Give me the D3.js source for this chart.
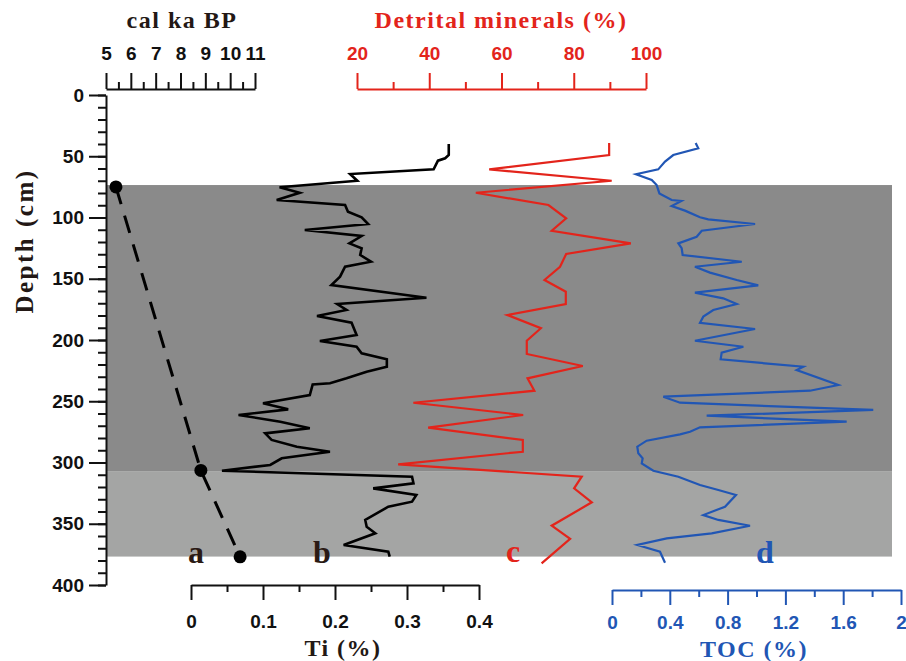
<!DOCTYPE html>
<html>
<head>
<meta charset="utf-8">
<script src="https://cdn.jsdelivr.net/npm/d3@7"></script>
<style>
  body { margin: 0; background: #fff; }
  svg { display: block; }
</style>
</head>
<body>
<div id="chart"></div>
<script>
// depth (cm) -> Ti (%)
const tiDepth = [40, 49, 51.7, 53.6, 60.7, 64.5, 70, 75.3, 79.8, 85.7,
  89.8, 95.3, 99.8, 105.3, 110.2, 115.1, 121.1, 125.1, 130.6, 136.1,
  140.2, 148.3, 155.1, 165.5, 170.6, 175.5, 180.4, 185.9, 195.9, 200.8,
  205.5, 210.9, 215.8, 221.8, 225.9, 231.3, 235.3, 236.3, 244.9, 251.7,
  256.6, 261.2, 266.7, 272.1, 276.2, 281.6, 287.1, 291.2, 296.6, 302,
  306.7, 311.6, 317, 321.1, 326.5, 332, 336.1, 346.9, 352.4, 357.8,
  367.3, 372.8, 376.9];
const tiValue = [0.358, 0.358, 0.353, 0.343, 0.337, 0.221, 0.231, 0.123, 0.151, 0.119,
  0.214, 0.218, 0.237, 0.246, 0.158, 0.237, 0.220, 0.237, 0.235, 0.250,
  0.214, 0.207, 0.195, 0.327, 0.203, 0.216, 0.175, 0.223, 0.230, 0.179,
  0.230, 0.237, 0.272, 0.272, 0.244, 0.216, 0.193, 0.169, 0.165, 0.100,
  0.135, 0.066, 0.124, 0.165, 0.103, 0.112, 0.147, 0.193, 0.126, 0.110,
  0.043, 0.307, 0.309, 0.253, 0.313, 0.307, 0.274, 0.242, 0.244, 0.256,
  0.212, 0.274, 0.276];

// depth -> detrital minerals (%)
const detDepth = [39.2, 49, 60.7, 70, 79.8, 89.8, 100.7, 110.8, 121.1, 129.8,
  140.2, 151, 160.6, 170.6, 179.6, 190.4, 200.6, 211.4, 221.2, 231.3,
  241.4, 251.2, 261.2, 271.6, 281.6, 291.2, 301.5, 311.6, 321.1, 332.5,
  351.6, 362.4, 382.3];
const detValue = [89.8, 89.8, 56.6, 90.5, 52.9, 73.0, 77.9, 73.9, 95.8, 77.9,
  76.2, 71.9, 77.8, 77.8, 61.6, 70.9, 67.0, 67.0, 82.5, 67.2,
  69.1, 35.6, 66.0, 39.7, 65.9, 65.9, 31.4, 82.2, 80.1, 85.0,
  73.9, 79.0, 71.1];

// depth -> TOC (%)
const tocDepth = [39.2, 43.5, 49, 54.4, 60.7, 64.7, 69.4, 73.5, 80.3, 85.7,
  86.5, 90.6, 94.4, 99.8, 101.5, 105.3, 110.8, 115.7, 121.1, 125.1,
  130.6, 136.1, 140.2, 145, 151, 155.4, 161.4, 166, 170.6, 175.5,
  180.9, 185.9, 191, 200.6, 205.5, 210.4, 215.8, 221.8, 224.5, 236.7,
  241.4, 246.3, 251.2, 257.1, 261.8, 266.7, 271.3, 274.9, 277, 282.2,
  287.1, 292.5, 296.6, 300.7, 306.7, 311.6, 318.4, 322.4, 326.5, 336.1,
  342.9, 346.9, 351.6, 357.8, 361.9, 367.3, 372.8, 381.8];
const tocValue = [0.579, 0.597, 0.424, 0.367, 0.320, 0.166, 0.275, 0.309, 0.328, 0.413,
  0.48, 0.413, 0.505, 0.609, 0.666, 0.990, 0.621, 0.586, 0.459, 0.482,
  0.489, 0.898, 0.574, 0.678, 0.863, 1.012, 0.574, 0.770, 0.863, 0.701,
  0.632, 0.609, 0.990, 0.574, 0.909, 0.759, 0.752, 1.324, 1.278, 1.566,
  1.370, 0.355, 0.471, 1.808, 0.655, 1.624, 0.609, 0.540, 0.471, 0.240,
  0.175, 0.182, 0.212, 0.206, 0.286, 0.459, 0.609, 0.736, 0.858, 0.782,
  0.632, 0.736, 0.955, 0.690, 0.379, 0.175, 0.332, 0.367];

// age model
const ageDepth = [75, 306.5, 377];
const ageValue = [5.4, 8.82, 10.4];

// shaded zones (depth)
const zoneTop = [73.5, 307.5];
const zoneBottom = [307.5, 376.8];
const zoneFill = ["#8a8a8a", "#a4a5a4"];

const depthMajor = d3.range(0, 401, 50);
const depthMinor = d3.range(0, 401, 10);
const ageMajor = [5, 6, 7, 8, 9, 10, 11];
const ageMinor = [5.5, 6.5, 7.5, 8.5, 9.5, 10.5];
const detMajor = [20, 40, 60, 80, 100];
const detMinor = [30, 50, 70, 90];
const tiMajor = [0, 0.1, 0.2, 0.3, 0.4];
const tiMinor = [0.05, 0.15, 0.25, 0.35];
const tocMajor = [0, 0.4, 0.8, 1.2, 1.6, 2];
const tocMinor = [0.2, 0.6, 1.0, 1.4, 1.8];

const width = 906, height = 661;
const RED = "#e3241b", BLUE = "#2156b4", BLACK = "#111";
const serif = "'Liberation Serif', 'Times New Roman', serif";
const sans = "'Liberation Sans', Arial, sans-serif";

const svg = d3.select("#chart").append("svg")
  .attr("width", width).attr("height", height)
  .style("background", "#fff");

const y = d3.scaleLinear().domain([0, 400]).range([95, 585]);
const xAge = d3.scaleLinear().domain([5, 11]).range([106, 255]);
const xDet = d3.scaleLinear().domain([20, 100]).range([357, 646]);
const xTi = d3.scaleLinear().domain([0, 0.4]).range([191, 479]);
const xToc = d3.scaleLinear().domain([0, 2]).range([612, 901]);

// background zones
svg.selectAll(".zone")
  .data(zoneTop)
  .join("rect")
  .attr("class", "zone")
  .attr("x", 106)
  .attr("width", 892 - 106)
  .attr("y", (d) => y(d))
  .attr("height", (d, i) => y(zoneBottom[i]) - y(d))
  .attr("fill", (d, i) => zoneFill[i]);

function drawAxis(axisFn, scale, pos, majors, minors, majorLen, minorLen, pad, color, fmt) {
  const g = svg.append("g");
  if (axisFn === d3.axisLeft) g.attr("transform", `translate(${pos},0)`);
  else g.attr("transform", `translate(0,${pos})`);

  g.append("g")
    .call(axisFn(scale).tickValues(minors).tickSize(minorLen).tickSizeOuter(0).tickFormat(""))
    .call((s) => s.select(".domain").remove());

  g.append("g")
    .call(axisFn(scale).tickValues(majors).tickSize(majorLen).tickSizeOuter(0)
      .tickPadding(pad).tickFormat(fmt || d3.format("~g")));

  g.selectAll("path, line").attr("stroke", color).attr("stroke-width", 2);
  g.selectAll("text")
    .attr("fill", color)
    .style("font-family", sans)
    .style("font-weight", "bold")
    .style("font-size", "19px");
  return g;
}

drawAxis(d3.axisLeft, y, 106, depthMajor, depthMinor, 17, 8, 5, BLACK);
drawAxis(d3.axisTop, xAge, 89, ageMajor, ageMinor, 16, 7, 13, BLACK);
drawAxis(d3.axisTop, xDet, 89, detMajor, detMinor, 16, 7, 13, RED);
drawAxis(d3.axisBottom, xTi, 585, tiMajor, tiMinor, 15, 7, 15, BLACK);
drawAxis(d3.axisBottom, xToc, 590, tocMajor, tocMinor, 15, 7, 11, BLUE);

// curves
const line = (xs, depths) => d3.line()
  .x((d) => xs(d))
  .y((d, i) => y(depths[i]));

svg.append("path")
  .attr("d", line(xTi, tiDepth)(tiValue))
  .attr("fill", "none").attr("stroke", "#000")
  .attr("stroke-width", 2.6).attr("stroke-linejoin", "miter");

svg.append("path")
  .attr("d", line(xDet, detDepth)(detValue))
  .attr("fill", "none").attr("stroke", RED)
  .attr("stroke-width", 2.2).attr("stroke-linejoin", "miter");

svg.append("path")
  .attr("d", line(xToc, tocDepth)(tocValue))
  .attr("fill", "none").attr("stroke", BLUE)
  .attr("stroke-width", 2.2).attr("stroke-linejoin", "miter");

// age model
svg.append("path")
  .attr("d", line(xAge, ageDepth)(ageValue))
  .attr("fill", "none").attr("stroke", "#000")
  .attr("stroke-width", 3).attr("stroke-dasharray", "18,12");

svg.selectAll(".agept")
  .data(ageValue)
  .join("circle")
  .attr("class", "agept")
  .attr("cx", (d) => xAge(d))
  .attr("cy", (d, i) => y(ageDepth[i]))
  .attr("r", 6.5)
  .attr("fill", "#000");

// titles
function title(text, x, yy, color, size, spacing, rotate) {
  const t = svg.append("text")
    .attr("text-anchor", "middle")
    .attr("fill", color)
    .style("font-family", serif)
    .style("font-weight", "bold")
    .style("font-size", size + "px")
    .style("letter-spacing", spacing + "px")
    .text(text);
  if (rotate) t.attr("transform", `translate(${x},${yy}) rotate(-90)`);
  else t.attr("x", x).attr("y", yy);
  return t;
}

title("cal ka BP", 182, 28, "#231815", 24, 1.5);
title("Detrital minerals (%)", 501, 28, RED, 24, 1.5);
title("Ti (%)", 343, 656, "#231815", 24, 1.5);
title("TOC (%)", 754, 657, BLUE, 24, 1.5);
title("Depth (cm)", 33, 241, "#231815", 25, 2.5, true);

title("a", 196, 563, "#2a1a14", 32, 0);
title("b", 322, 563, "#2a1a14", 32, 0);
title("c", 513, 562, RED, 32, 0);
title("d", 765, 563, BLUE, 32, 0);
</script>
</body>
</html>
